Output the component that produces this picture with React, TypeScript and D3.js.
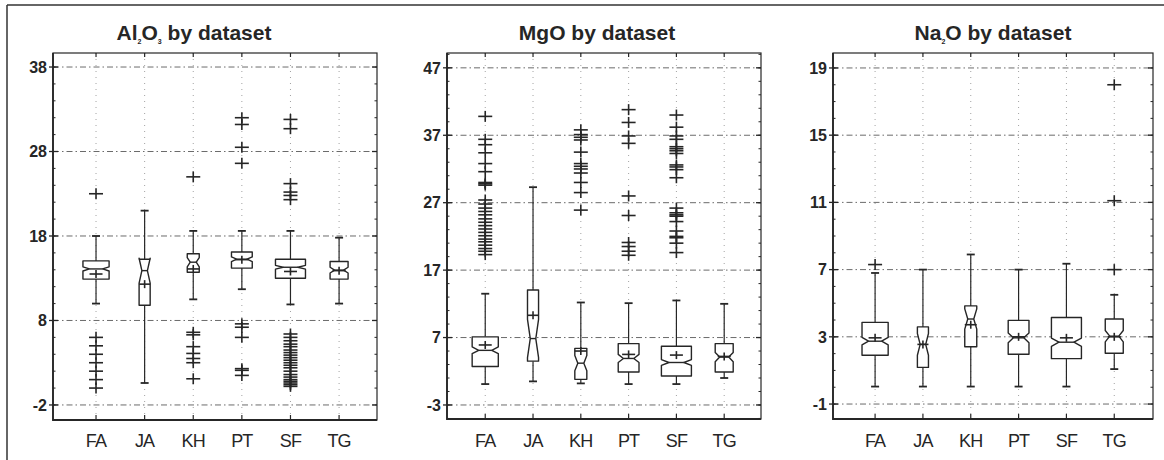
import React from "react";
import * as d3 from "d3";

// ---------- data ----------
const datasets = ["FA", "JA", "KH", "PT", "SF", "TG"];
const sampleSizes = [190, 34, 40, 120, 250, 90];

// Al2O3
const alTicks = [-2, 8, 18, 28, 38];
const alQ1 = [12.9, 9.8, 13.7, 14.2, 13.0, 12.9];
const alMedian = [14.1, 13.9, 14.9, 15.25, 14.3, 13.96];
const alQ3 = [15.05, 15.25, 15.9, 16.1, 15.25, 14.98];
const alMean = [13.5, 12.3, 14.1, 15.2, 13.8, 13.9];
const alWhiskerLo = [10.0, 0.6, 10.5, 11.7, 9.9, 10.0];
const alWhiskerHi = [18.0, 21.0, 18.6, 18.6, 18.6, 17.8];
const alOutliers = [
  [23.0, 6.0, 5.0, 4.0, 3.0, 2.0, 1.0, 0.0],
  [],
  [25.0, 6.6, 6.3, 4.9, 4.1, 3.5, 3.0, 1.1],
  [32.0, 31.2, 28.5, 26.6, 7.6, 7.2, 6.0, 2.3, 2.1, 1.5],
  [31.8, 30.7, 24.2, 23.2, 22.8, 22.3, 6.4, 6.0, 5.6, 5.2, 4.9, 4.5, 4.2, 3.9, 3.6, 3.3, 3.0, 2.7, 2.4, 2.0, 1.6, 1.3, 1.0, 0.8, 0.6, 0.4, 0.2],
  [],
];

// MgO
const mgTicks = [-3, 7, 17, 27, 37, 47];
const mgQ1 = [2.7, 3.5, 0.8, 1.9, 1.3, 1.9];
const mgMedian = [5.1, 6.85, 3.2, 3.9, 3.3, 4.1];
const mgQ3 = [7.1, 14.05, 5.4, 6.1, 5.7, 6.1];
const mgMean = [5.9, 10.3, 5.0, 4.5, 4.4, 4.2];
const mgWhiskerLo = [0.1, 0.5, 0.2, 0.1, 0.1, 1.0];
const mgWhiskerHi = [13.5, 29.3, 12.2, 12.1, 12.5, 12.0];
const mgOutliers = [
  [39.8, 36.4, 35.6, 34.4, 32.8, 31.6, 30.0, 29.8, 29.6, 27.4, 26.8, 26.2, 25.7, 25.2, 24.6, 24.1, 23.6, 23.1, 22.6, 22.1, 21.6, 21.2, 20.7, 20.2, 19.8, 19.3],
  [],
  [37.8, 37.1, 36.7, 36.3, 34.5, 32.8, 32.4, 32.0, 31.4, 30.0, 28.5, 25.9],
  [40.8, 38.9, 36.9, 35.8, 28.0, 25.1, 21.1, 20.5, 19.8, 19.2],
  [40.0, 38.2, 36.9, 36.4, 35.3, 35.0, 34.7, 34.3, 32.6, 32.3, 31.9, 30.7, 26.2, 25.5, 25.2, 25.0, 24.2, 22.8, 22.0, 21.8, 21.0, 19.6],
  [],
];

// Na2O
const naTicks = [-1, 3, 7, 11, 15, 19];
const naQ1 = [1.9, 1.18, 2.41, 1.96, 1.7, 2.02];
const naMedian = [2.74, 2.55, 4.06, 2.94, 2.68, 3.04];
const naQ3 = [3.86, 3.59, 4.84, 3.98, 4.15, 4.06];
const naMean = [2.94, 2.55, 3.72, 3.0, 2.94, 3.0];
const naWhiskerLo = [0.04, 0.04, 0.04, 0.04, 0.04, 1.08];
const naWhiskerHi = [6.8, 7.0, 7.9, 7.0, 7.35, 5.5];
const naOutliers = [[7.3], [], [], [], [], [18.0, 11.1, 7.0]];

// ---------- drawing ----------
const INK = "#262626";
const FONT = "'Liberation Sans', Arial, sans-serif";

type PanelProps = {
  title: React.ReactNode;
  titleX: number;
  left: number;
  right: number;
  top: number;
  bottom: number;
  xDomain: [number, number];
  yDomain: [number, number];
  ticks: number[];
  minorStep: number;
  q1: number[];
  med: number[];
  q3: number[];
  mean: number[];
  wlo: number[];
  whi: number[];
  outliers: number[][];
};

function Plus({ cx, cy, hw, hh, sw }: { cx: number; cy: number; hw: number; hh: number; sw: number }) {
  return (
    <g stroke={INK} strokeWidth={sw}>
      <line x1={cx - hw} x2={cx + hw} y1={cy} y2={cy} />
      <line x1={cx} x2={cx} y1={cy - hh} y2={cy + hh} />
    </g>
  );
}

function Panel(p: PanelProps) {
  const x = d3.scaleLinear().domain(p.xDomain).range([p.left, p.right]);
  const y = d3.scaleLinear().domain(p.yDomain).range([p.bottom, p.top]);
  const wScale = d3.scaleSqrt().domain([0, 250]).range([0, 30]);

  const minors: number[] = [];
  for (let v = p.ticks[0] - 20 * p.minorStep; v <= p.yDomain[1]; v += p.minorStep) {
    if (v >= p.yDomain[0] && v <= p.yDomain[1]) minors.push(+v.toFixed(4));
  }

  return (
    <g>
      <text x={p.titleX} y={40} textAnchor="middle" fontFamily={FONT} fontWeight="bold" fontSize={21} fill={INK}>
        {p.title}
      </text>

      {/* grid */}
      {datasets.map((d, i) => (
        <line key={"vg" + d} x1={x(i + 1)} x2={x(i + 1)} y1={p.top} y2={p.bottom} stroke="#8a8a8a" strokeWidth={0.8} strokeDasharray="1,5" />
      ))}
      {p.ticks.map((t) => (
        <line key={"hg" + t} x1={p.left} x2={p.right} y1={y(t)} y2={y(t)} stroke="#5a5a5a" strokeWidth={0.9} strokeDasharray="6,3,1.5,3" />
      ))}

      {/* boxes */}
      {datasets.map((d, i) => {
        const cx = x(i + 1);
        const n = sampleSizes[i];
        const hw = wScale(n) / 2;
        const waist = hw * 0.5;
        const nh = (1.57 * (p.q3[i] - p.q1[i])) / Math.sqrt(n);
        const m = p.med[i];
        const path =
          `M${cx - hw},${y(p.q1[i])} L${cx - hw},${y(m - nh)} L${cx - waist},${y(m)} L${cx - hw},${y(m + nh)} L${cx - hw},${y(p.q3[i])} ` +
          `L${cx + hw},${y(p.q3[i])} L${cx + hw},${y(m + nh)} L${cx + waist},${y(m)} L${cx + hw},${y(m - nh)} L${cx + hw},${y(p.q1[i])} Z`;
        const cap = 4;
        return (
          <g key={"b" + d}>
            <line x1={cx} x2={cx} y1={y(p.q3[i])} y2={y(p.whi[i])} stroke={INK} strokeWidth={1.2} />
            <line x1={cx} x2={cx} y1={y(p.q1[i])} y2={y(p.wlo[i])} stroke={INK} strokeWidth={1.2} />
            <line x1={cx - cap} x2={cx + cap} y1={y(p.whi[i])} y2={y(p.whi[i])} stroke={INK} strokeWidth={1.8} />
            <line x1={cx - cap} x2={cx + cap} y1={y(p.wlo[i])} y2={y(p.wlo[i])} stroke={INK} strokeWidth={1.8} />
            <path d={path} fill="white" stroke={INK} strokeWidth={1.4} strokeLinejoin="round" />
            <line x1={cx - waist} x2={cx + waist} y1={y(m)} y2={y(m)} stroke={INK} strokeWidth={1.4} />
            <Plus cx={cx} cy={y(p.mean[i])} hw={Math.min(6.5, hw)} hh={4} sw={1.6} />
            {p.outliers[i].map((o, k) => (
              <Plus key={k} cx={cx} cy={y(o)} hw={7} hh={5.5} sw={1.6} />
            ))}
          </g>
        );
      })}

      {/* frame */}
      <rect x={p.left} y={p.top} width={p.right - p.left} height={p.bottom - p.top} fill="none" stroke={INK} strokeWidth={1.2} />
      <line x1={p.left} x2={p.left} y1={p.top} y2={p.bottom + 1} stroke={INK} strokeWidth={1.8} />
      <line x1={p.left} x2={p.right} y1={p.bottom} y2={p.bottom} stroke={INK} strokeWidth={1.8} />

      {/* y ticks */}
      {p.ticks.map((t) => (
        <g key={"yt" + t}>
          <line x1={p.left - 4} x2={p.left + 5} y1={y(t)} y2={y(t)} stroke={INK} strokeWidth={1.3} />
          <line x1={p.right - 5} x2={p.right} y1={y(t)} y2={y(t)} stroke={INK} strokeWidth={1.3} />
          <text x={p.left - 6} y={y(t)} dy="0.36em" textAnchor="end" fontFamily={FONT} fontWeight="bold" fontSize={16} fill={INK}>
            {t}
          </text>
        </g>
      ))}
      {minors.map((t) => (
        <g key={"mt" + t}>
          <line x1={p.left} x2={p.left + 2.5} y1={y(t)} y2={y(t)} stroke={INK} strokeWidth={1} />
          <line x1={p.right - 2.5} x2={p.right} y1={y(t)} y2={y(t)} stroke={INK} strokeWidth={1} />
        </g>
      ))}

      {/* x ticks */}
      {datasets.map((d, i) => (
        <g key={"xt" + d}>
          <line x1={x(i + 1)} x2={x(i + 1)} y1={p.bottom} y2={p.bottom - 5} stroke={INK} strokeWidth={1.2} />
          <line x1={x(i + 1)} x2={x(i + 1)} y1={p.top} y2={p.top + 4} stroke={INK} strokeWidth={1.2} />
          <text x={x(i + 1)} y={447} textAnchor="middle" fontFamily={FONT} fontSize={18} fill={INK} letterSpacing={-0.8}>
            {d}
          </text>
        </g>
      ))}
    </g>
  );
}

export default function App() {
  const sub = (s: string) => (
    <tspan fontSize={7} dy={4}>
      {s}
    </tspan>
  );
  return (
    <svg width={1164} height={460} style={{ position: "absolute", left: 0, top: 0, background: "white" }}>
      <rect x={0} y={0} width={1164} height={460} fill="white" />
      <line x1={7} x2={1164} y1={5} y2={5} stroke="#333" strokeWidth={1.5} />
      <line x1={7} x2={7} y1={5} y2={460} stroke="#333" strokeWidth={1.5} />

      <Panel
        title={
          <>
            Al{sub("2")}
            <tspan dy={-4}>O</tspan>
            {sub("3")}
            <tspan dy={-4}> by dataset</tspan>
          </>
        }
        titleX={194}
        left={53}
        right={377}
        top={53}
        bottom={420}
        xDomain={[0.115, 6.78]}
        yDomain={[-3.78, 39.66]}
        ticks={alTicks}
        minorStep={2}
        q1={alQ1}
        med={alMedian}
        q3={alQ3}
        mean={alMean}
        wlo={alWhiskerLo}
        whi={alWhiskerHi}
        outliers={alOutliers}
      />
      <Panel
        title="MgO by dataset"
        titleX={597}
        left={447}
        right={761}
        top={53}
        bottom={419}
        xDomain={[0.2, 6.77]}
        yDomain={[-5.08, 49.2]}
        ticks={mgTicks}
        minorStep={2}
        q1={mgQ1}
        med={mgMedian}
        q3={mgQ3}
        mean={mgMean}
        wlo={mgWhiskerLo}
        whi={mgWhiskerHi}
        outliers={mgOutliers}
      />
      <Panel
        title={
          <>
            Na{sub("2")}
            <tspan dy={-4}>O by dataset</tspan>
          </>
        }
        titleX={993}
        left={833}
        right={1153}
        top={53}
        bottom={419}
        xDomain={[0.12, 6.81]}
        yDomain={[-1.89, 19.89]}
        ticks={naTicks}
        minorStep={1}
        q1={naQ1}
        med={naMedian}
        q3={naQ3}
        mean={naMean}
        wlo={naWhiskerLo}
        whi={naWhiskerHi}
        outliers={naOutliers}
      />
    </svg>
  );
}
